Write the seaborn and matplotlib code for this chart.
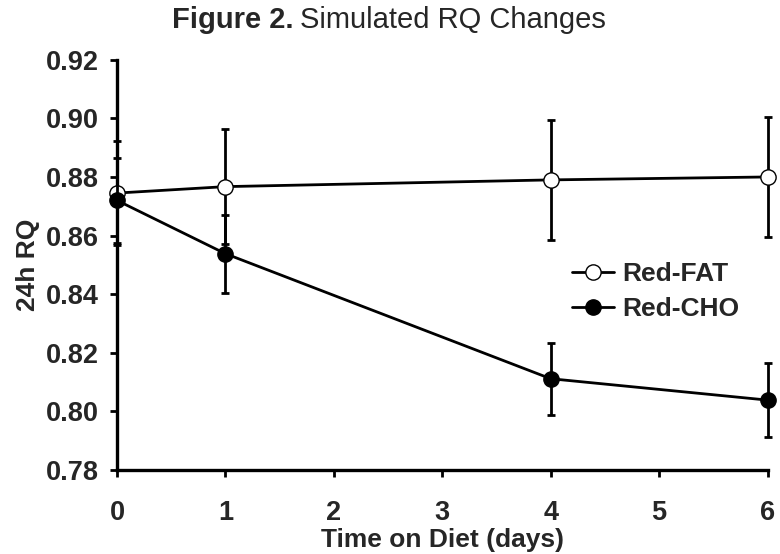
import numpy as np
import pandas as pd
import matplotlib
matplotlib.use("Agg")
import matplotlib.pyplot as plt
import seaborn as sns

days = [0, 1, 4, 6]
fat_rq = [0.8745, 0.8767, 0.8790, 0.8800]
fat_err = [0.0178, 0.0197, 0.0205, 0.0205]
cho_rq = [0.8720, 0.8538, 0.8111, 0.8038]
cho_err = [0.0145, 0.0133, 0.0123, 0.0126]
series_names = ["Red-FAT", "Red-CHO"]
y_ticks = [0.78, 0.80, 0.82, 0.84, 0.86, 0.88, 0.90, 0.92]
x_ticks = [0, 1, 2, 3, 4, 5, 6]

sns.set_theme(style="ticks")
plt.rcParams['font.family'] = ['Liberation Sans', 'DejaVu Sans']

df = pd.DataFrame({
    "day": days * 2,
    "rq": fat_rq + cho_rq,
    "err": fat_err + cho_err,
    "diet": [series_names[0]] * len(days) + [series_names[1]] * len(days),
})

fig = plt.figure(figsize=(7.8, 5.54), dpi=100)
ax = fig.add_axes([0.150, 0.152, 0.834, 0.740])

styles = {series_names[0]: "white", series_names[1]: "black"}
for i, name in enumerate(series_names):
    sub = df[df["diet"] == name]
    ax.errorbar(sub["day"], sub["rq"], yerr=sub["err"], fmt="none",
                ecolor="black", elinewidth=2.0, capsize=3.0, capthick=2.0,
                zorder=2 + i * 2, clip_on=False)
    sns.lineplot(data=sub, x="day", y="rq", ax=ax, color="black",
                 linewidth=2.0, marker="o", markersize=11,
                 markerfacecolor=styles[name], markeredgecolor="black",
                 markeredgewidth=1.0, label=name, zorder=3 + i * 2,
                 clip_on=False, errorbar=None)

ax.set_xlim(0, 6)
ax.set_ylim(0.78, 0.92)
ax.set_xticks(x_ticks)
ax.set_yticks(y_ticks)
ax.set_yticklabels([f"{v:.2f}" for v in y_ticks])
for lab in ax.get_xticklabels() + ax.get_yticklabels():
    lab.set_fontweight("bold")
    lab.set_fontsize(19.5)
ax.tick_params(axis="both", direction="out", length=5, width=2.0, color="black", pad=8)
ax.tick_params(axis="x", pad=17)
sns.despine(ax=ax)
for s in ["left", "bottom"]:
    ax.spines[s].set_linewidth(2.4)
    ax.spines[s].set_color("black")

ax.set_xlabel("Time on Diet (days)", fontsize=19, fontweight="bold", labelpad=1.5)
ax.set_ylabel("24h RQ", fontsize=19, fontweight="bold", labelpad=4)

leg = ax.legend(loc="upper left", bbox_to_anchor=(0.683, 0.532), frameon=False,
                prop={"weight": "bold", "size": 19}, handlelength=1.6,
                handletextpad=0.3, labelspacing=0.4, borderaxespad=0)

fig.text(0.376, 0.963, "Figure 2.", ha="right", va="center",
         fontsize=21, fontweight="bold")
fig.text(0.384, 0.963, "Simulated RQ Changes", ha="left", va="center",
         fontsize=21)

fig.savefig("out.png", dpi=100)
